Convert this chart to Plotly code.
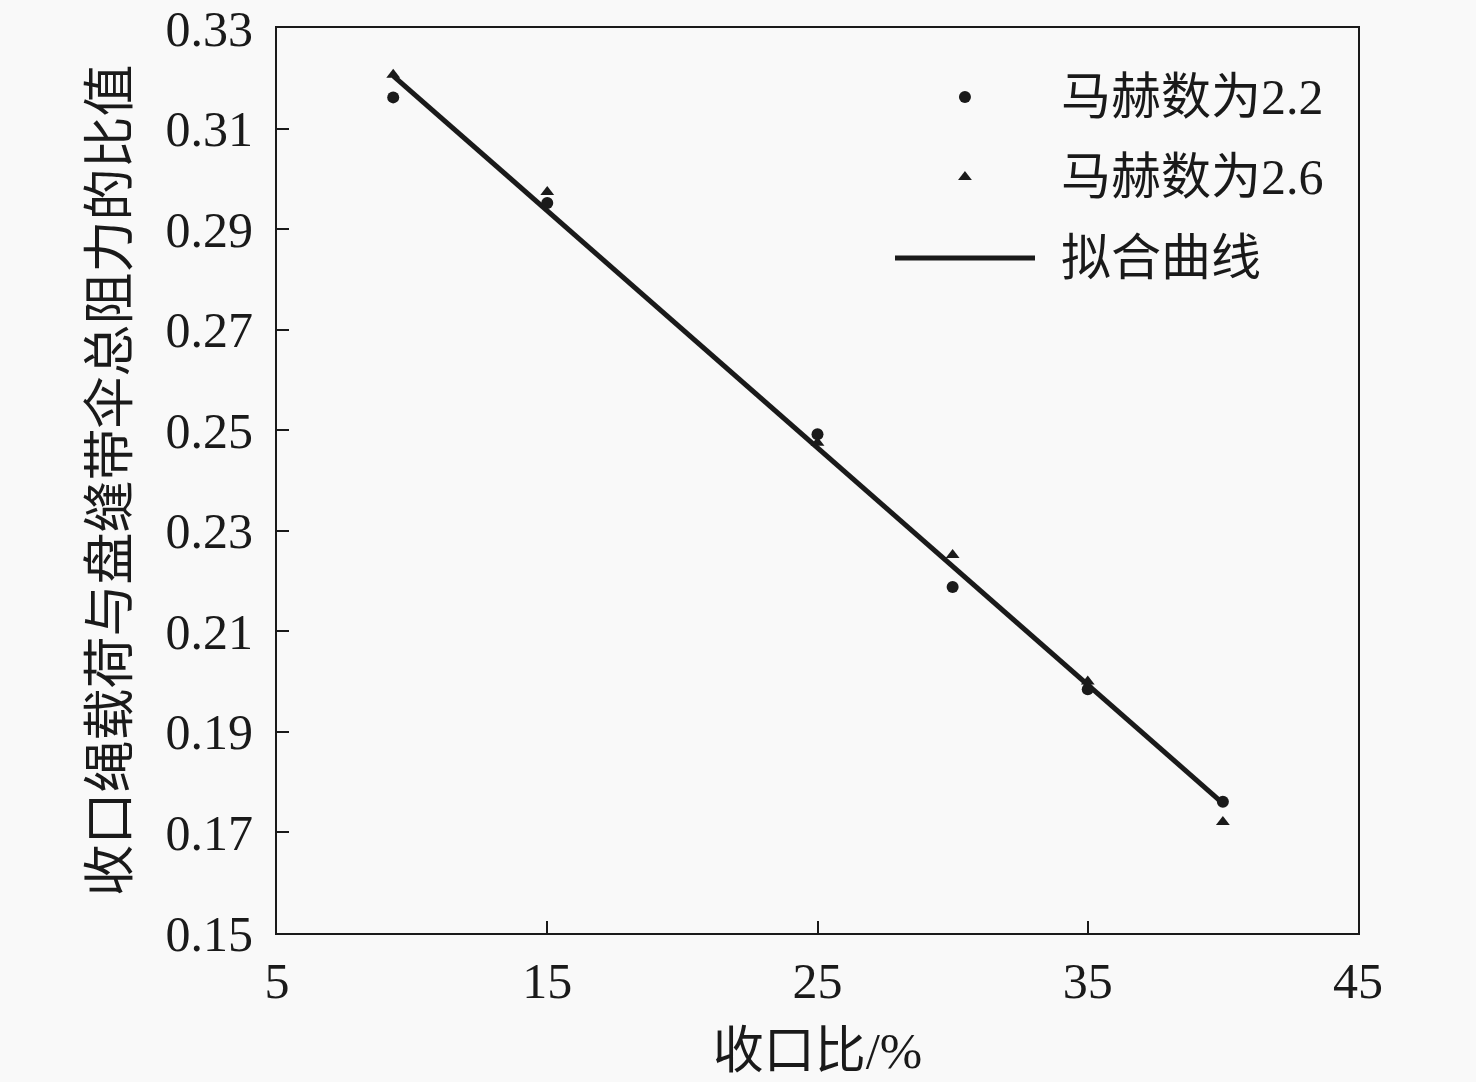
import plotly.graph_objects as go

# Data
x_vals = [9.3, 15, 25, 30, 35, 40]
ma22 = [0.3162, 0.2952, 0.2492, 0.2188, 0.1985, 0.1761]
ma26 = [0.3207, 0.2974, 0.2475, 0.2252, 0.2000, 0.1721]
fit_x = [9.3, 40]
fit_y = [0.3205, 0.1758]
legend_labels = ["马赫数为2.2", "马赫数为2.6", "拟合曲线"]
x_ticks = [5, 15, 25, 35, 45]
y_ticks = [0.15, 0.17, 0.19, 0.21, 0.23, 0.25, 0.27, 0.29, 0.31, 0.33]

FONT = "Liberation Serif, Times New Roman, Noto Sans CJK SC"
INK = "#1a1a1a"
BG = "#f9f9f9"

fig = go.Figure()
fig.add_trace(go.Scatter(x=fit_x, y=fit_y, mode="lines",
                         line=dict(color=INK, width=5), showlegend=False))
fig.add_trace(go.Scatter(x=x_vals, y=ma22, mode="markers",
                         marker=dict(symbol="circle", size=12, color=INK), showlegend=False))
fig.add_trace(go.Scatter(x=x_vals, y=ma26, mode="markers",
                         marker=dict(symbol="triangle-up", size=12, color=INK), showlegend=False))

# custom legend on an overlay axis (0-1 inside plot area)
leg_y = [0.9238, 0.8354, 0.7459]
fig.add_trace(go.Scatter(x=[0.6364], y=[leg_y[0]], xaxis="x2", yaxis="y2", mode="markers",
                         marker=dict(symbol="circle", size=12, color=INK), showlegend=False))
fig.add_trace(go.Scatter(x=[0.6364], y=[leg_y[1]], xaxis="x2", yaxis="y2", mode="markers",
                         marker=dict(symbol="triangle-up", size=12, color=INK), showlegend=False))
fig.add_trace(go.Scatter(x=[0.5717, 0.7012], y=[leg_y[2], leg_y[2]], xaxis="x2", yaxis="y2",
                         mode="lines", line=dict(color=INK, width=5), showlegend=False))
for lab, yy in zip(legend_labels, leg_y):
    fig.add_annotation(x=0.7234, y=yy, xref="x2", yref="y2", text=lab, showarrow=False,
                       xanchor="left", yanchor="middle",
                       font=dict(family=FONT, size=50, color=INK))

axis_common = dict(showline=True, linecolor=INK, linewidth=2, mirror=True,
                   ticks="inside", ticklen=12, tickwidth=2, tickcolor=INK,
                   showgrid=False, zeroline=False, automargin=False,
                   tickfont=dict(family=FONT, size=50, color=INK))

fig.update_layout(
    width=1476, height=1082,
    margin=dict(l=277, r=118, t=28, b=149),
    paper_bgcolor=BG, plot_bgcolor=BG,
    xaxis=dict(range=[5, 45], tickvals=x_ticks, ticktext=[str(v) for v in x_ticks],
               ticklabelstandoff=3,
               title=dict(text="收口比/%", font=dict(family=FONT, size=51, color=INK), standoff=24),
               **axis_common),
    yaxis=dict(range=[0.15, 0.33], tickvals=y_ticks, ticktext=[f"{v:.2f}" for v in y_ticks],
               ticklabelstandoff=12,
               title=dict(text="收口绳载荷与盘缝带伞总阻力的比值",
                          font=dict(family=FONT, size=52, color=INK), standoff=20),
               **axis_common),
    xaxis2=dict(overlaying="x", range=[0, 1], visible=False),
    yaxis2=dict(overlaying="y", range=[0, 1], visible=False),
)

fig.write_html("out.html", config={"displayModeBar": False},
               post_script="document.body.style.margin='0';document.body.style.overflow='hidden';"
                           "document.body.style.background='#f9f9f9';")
